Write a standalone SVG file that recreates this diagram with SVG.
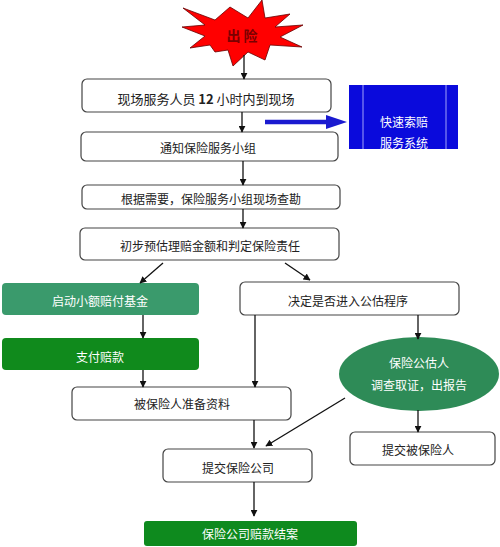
<svg xmlns="http://www.w3.org/2000/svg" width="500" height="547" viewBox="0 0 500 547">
<defs>
<marker id="ah" viewBox="0 0 10 10" refX="9" refY="5" markerWidth="7" markerHeight="7" markerUnits="userSpaceOnUse" orient="auto">
<path d="M0,0 L10,5 L0,10 z" fill="#111"/>
</marker>
</defs>
<style>
text{font-family:"Noto Sans CJK SC","Liberation Sans",sans-serif;font-size:12px;text-anchor:middle;dominant-baseline:central}
.box{fill:#fff;stroke:#444;stroke-width:1.2}
.dk{fill:#222}
.wt{fill:#fff}
.c{stroke:#111;stroke-width:1.3;fill:none;marker-end:url(#ah)}
</style>
<rect width="500" height="547" fill="#fff"/>
<g id="start">
<polygon points="183,8 215,20 230,7 248,18 262,0 265,18 290,14 275,27 303,25 280,37 302,47 270,45 265,60 248,52 233,66 228,50 215,52 210,45 190,48 205,36 182,27 205,25" fill="#ff0000" stroke="#600" stroke-width="0.8"/>
<text x="242" y="35" style="font-size:14px;font-weight:bold;fill:#7a0000">出 险</text>
</g>
<g id="n1">
<rect class="box" x="82" y="79" width="249" height="33" rx="5"/>
<text x="206" y="98" class="dk" style="font-size:13px">现场服务人员 <tspan font-weight="bold">12</tspan> 小时内到现场</text>
</g>
<g id="sys">
<rect x="349" y="85" width="109" height="64" fill="#0a0adc"/>
<line x1="363" y1="85" x2="363" y2="149" stroke="#c8c8ff" stroke-width="0.8"/>
<line x1="446" y1="85" x2="446" y2="149" stroke="#c8c8ff" stroke-width="0.8"/>
<text x="404" y="121" class="wt">快速索赔</text>
<text x="404" y="142" class="wt">服务系统</text>
</g>
<g id="n2">
<rect class="box" x="81" y="132" width="257" height="29" rx="5"/>
<text x="208" y="147" class="dk">通知保险服务小组</text>
</g>
<g id="n3">
<rect class="box" x="82" y="185" width="258" height="24" rx="5"/>
<text x="211" y="198" class="dk">根据需要，保险服务小组现场查勘</text>
</g>
<g id="n4">
<rect class="box" x="80" y="228" width="259" height="32" rx="5"/>
<text x="210" y="245" class="dk">初步预估理赔金额和判定保险责任</text>
</g>
<g id="fund">
<rect x="2" y="283" width="197" height="32" rx="4" fill="#3a9a6c"/>
<text x="100" y="300" class="wt">启动小额赔付基金</text>
</g>
<g id="pay">
<rect x="2" y="338" width="197" height="32" rx="4" fill="#108a1c"/>
<text x="100" y="356" class="wt">支付赔款</text>
</g>
<g id="decide">
<rect class="box" x="240" y="282" width="219" height="33" rx="5"/>
<text x="348" y="300" class="dk">决定是否进入公估程序</text>
</g>
<g id="adjuster">
<ellipse cx="419" cy="374" rx="80" ry="37" fill="#2e8b57"/>
<text x="419" y="362" class="wt">保险公估人</text>
<text x="419" y="384" class="wt">调查取证，出报告</text>
</g>
<g id="prep">
<rect class="box" x="72" y="387" width="219" height="33" rx="5"/>
<text x="182" y="403" class="dk">被保险人准备资料</text>
</g>
<g id="submitIns">
<rect class="box" x="350" y="432" width="145" height="33" rx="5"/>
<text x="418" y="449" class="dk">提交被保险人</text>
</g>
<g id="submitCo">
<rect class="box" x="163" y="449" width="149" height="33" rx="5"/>
<text x="238" y="467" class="dk">提交保险公司</text>
</g>
<g id="end">
<rect x="144" y="521" width="213" height="25" rx="3" fill="#0e8a1e"/>
<text x="250" y="533" class="wt">保险公司赔款结案</text>
</g>
<g id="connectors">
<line class="c" x1="244" y1="55" x2="244" y2="79"/>
<line class="c" x1="242" y1="112" x2="242" y2="132"/>
<line class="c" x1="243" y1="161" x2="243" y2="185"/>
<line class="c" x1="243" y1="209" x2="243" y2="228"/>
<line class="c" x1="163" y1="263" x2="140" y2="283"/>
<line class="c" x1="285" y1="263" x2="310" y2="280"/>
<line class="c" x1="143" y1="315" x2="143" y2="338"/>
<line class="c" x1="418" y1="315" x2="418" y2="339"/>
<line class="c" x1="255" y1="315" x2="255" y2="387"/>
<line class="c" x1="143" y1="370" x2="143" y2="387"/>
<line class="c" x1="254" y1="420" x2="254" y2="448"/>
<line class="c" x1="345" y1="398" x2="266" y2="446"/>
<line class="c" x1="418" y1="410" x2="418" y2="432"/>
<line class="c" x1="254" y1="482" x2="254" y2="516"/>
<line x1="265" y1="122" x2="328" y2="122" stroke="#1a1ad0" stroke-width="4.5"/>
<polygon points="326,115 347,122 326,129" fill="#1a1ad0"/>
</g>
</svg>
